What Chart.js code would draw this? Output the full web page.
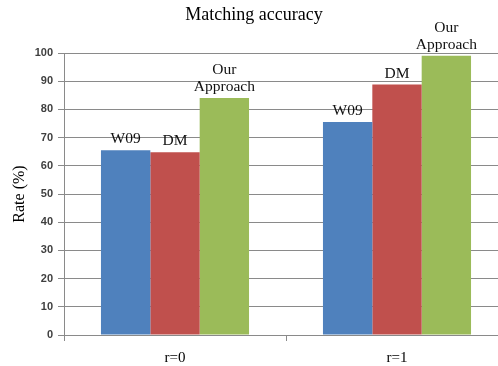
<!DOCTYPE html>
<html lang="en">
<head>
    <meta charset="UTF-8">
    <title>Matching accuracy</title>
    <script src="https://cdn.jsdelivr.net/npm/chart.js"></script>
    <style>
        body {
            margin: 0;
            padding: 0;
            background-color: #ffffff;
            overflow: hidden;
        }
        #wrap {
            position: relative;
            width: 508px;
            height: 366px;
        }
    </style>
</head>
<body>
    <div id="wrap"><canvas id="accChart"></canvas></div>

    <script>
// data
const categories = ["r=0", "r=1"];
const seriesNames = ["W09", "DM", "Our Approach"];
const w09 = [65.5, 75.5];
const dm = [64.8, 88.8];
const ourApproach = [84.0, 99.0];

const seriesColors = ["#4F81BD", "#C0504D", "#9BBB59"];
const axisGray = "#8a8a8a";

// labels drawn above each bar (dataset name, split onto lines)
const barLabels = {
    id: "barLabels",
    afterDatasetsDraw(chart) {
        const ctx = chart.ctx;
        ctx.save();
        ctx.font = '15.5px "Liberation Serif"';
        ctx.fillStyle = "#111111";
        ctx.textAlign = "center";
        ctx.textBaseline = "alphabetic";
        chart.data.datasets.forEach((ds, i) => {
            const lines = ds.label.split(" ");
            chart.getDatasetMeta(i).data.forEach(bar => {
                lines.forEach((t, k) => {
                    ctx.fillText(t, bar.x, bar.y - 7 - (lines.length - 1 - k) * 17);
                });
            });
        });
        ctx.restore();
    }
};

const seriesData = [w09, dm, ourApproach];

new Chart(document.getElementById("accChart"), {
    type: "bar",
    data: {
        labels: categories,
        datasets: seriesNames.map((name, i) => ({
            label: name,
            data: seriesData[i],
            backgroundColor: seriesColors[i],
            borderWidth: 0,
            barPercentage: 1.0,
            categoryPercentage: 0.667
        }))
    },
    options: {
        responsive: true,
        maintainAspectRatio: false,
        animation: false,
        layout: { padding: 0 },
        plugins: {
            legend: { display: false },
            tooltip: { enabled: false },
            title: {
                display: true,
                text: "Matching accuracy",
                color: "#000000",
                font: { family: "Liberation Serif", size: 18, weight: "normal" },
                padding: { top: 4, bottom: 27.4 }
            }
        },
        scales: {
            x: {
                grid: {
                    drawOnChartArea: false,
                    drawTicks: true,
                    tickLength: 6,
                    color: axisGray
                },
                border: { color: axisGray },
                ticks: {
                    color: "#000000",
                    font: { family: "Liberation Serif", size: 15 },
                    padding: 8
                },
                afterFit(scale) { scale.height = 31; }
            },
            y: {
                min: 0,
                max: 100,
                ticks: {
                    stepSize: 10,
                    color: "#3f3f3f",
                    font: { family: "Liberation Sans", size: 11, weight: "bold" },
                    padding: 5
                },
                grid: {
                    color: axisGray,
                    tickLength: 6
                },
                border: { color: axisGray },
                title: {
                    display: true,
                    text: "Rate (%)",
                    color: "#000000",
                    font: { family: "Liberation Serif", size: 16 },
                    padding: { top: 10, bottom: 0 }
                },
                afterFit(scale) { scale.width = 64; }
            }
        }
    },
    plugins: [barLabels]
});
    </script>
</body>
</html>
